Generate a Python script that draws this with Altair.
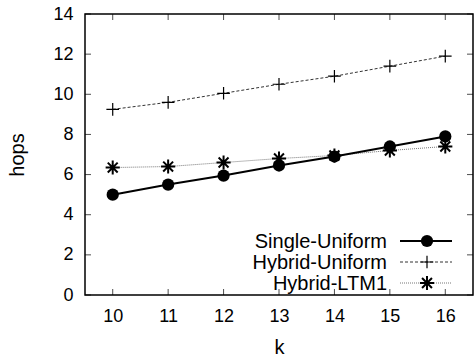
import altair as alt
import pandas as pd

k = [10, 11, 12, 13, 14, 15, 16]
single_uniform = [5.0, 5.5, 5.95, 6.45, 6.9, 7.4, 7.9]
hybrid_uniform = [9.25, 9.6, 10.05, 10.5, 10.9, 11.4, 11.9]
hybrid_ltm1 = [6.35, 6.4, 6.6, 6.8, 6.95, 7.2, 7.4]
y_ticks = [0, 2, 4, 6, 8, 10, 12, 14]
series_names = ["Single-Uniform", "Hybrid-Uniform", "Hybrid-LTM1"]

W, H = 388, 281
FONT = "Liberation Sans"

df_su = pd.DataFrame({"k": k, "hops": single_uniform})
df_hu = pd.DataFrame({"k": k, "hops": hybrid_uniform})
df_hl = pd.DataFrame({"k": k, "hops": hybrid_ltm1})
df_xt = pd.DataFrame({"k": k})
df_yt = pd.DataFrame({"hops": y_ticks})

xs = alt.Scale(domain=[9.5, 16.5], nice=False, zero=False)
ys = alt.Scale(domain=[0, 14], nice=False)

X = alt.X("k:Q", scale=xs, title="k",
          axis=alt.Axis(values=k, format="d", ticks=False, domain=False, grid=False,
                        labelFont=FONT, labelFontSize=18, labelPadding=12,
                        titleFont=FONT, titleFontSize=20, titleFontWeight="normal",
                        titlePadding=12, labelColor="black", titleColor="black"))
Y = alt.Y("hops:Q", scale=ys, title="hops",
          axis=alt.Axis(values=y_ticks, format="d", ticks=False, domain=False, grid=False,
                        labelFont=FONT, labelFontSize=18, labelPadding=12,
                        titleFont=FONT, titleFontSize=20, titleFontWeight="normal",
                        titlePadding=25, labelColor="black", titleColor="black"))

PLUS = "M-1,0H1M0,-1V1"
STAR = "M-1,0H1M0,-1V1M-0.7,-0.7L0.7,0.7M-0.7,0.7L0.7,-0.7"

base_su = alt.Chart(df_su)
base_hu = alt.Chart(df_hu)
base_hl = alt.Chart(df_hl)

line_hu = base_hu.mark_line(color="#333333", strokeWidth=1, strokeDash=[3, 2]).encode(x=X, y=Y)
pts_hu = base_hu.mark_point(shape=PLUS, size=160, color="black", strokeWidth=1.2, filled=False, opacity=1).encode(x="k:Q", y="hops:Q")
line_hl = base_hl.mark_line(color="#777777", strokeWidth=1, strokeDash=[1, 1]).encode(x="k:Q", y="hops:Q")
pts_hl = base_hl.mark_point(shape=STAR, size=200, color="black", strokeWidth=2, filled=False, opacity=1).encode(x="k:Q", y="hops:Q")
line_su = base_su.mark_line(color="black", strokeWidth=2).encode(x="k:Q", y="hops:Q")
pts_su = base_su.mark_point(shape="circle", size=150, color="black", filled=True, opacity=1).encode(x="k:Q", y="hops:Q")

# inward ticks
xt_b = alt.Chart(df_xt).mark_tick(color="black", thickness=1, size=6).encode(x="k:Q", y=alt.value(H - 3))
xt_t = alt.Chart(df_xt).mark_tick(color="black", thickness=1, size=6).encode(x="k:Q", y=alt.value(3))
yt_l = alt.Chart(df_yt).mark_tick(color="black", thickness=1, size=6).encode(y="hops:Q", x=alt.value(3))
yt_r = alt.Chart(df_yt).mark_tick(color="black", thickness=1, size=6).encode(y="hops:Q", x=alt.value(W - 3))

# legend
leg_y = [227, 248, 269]
legend_layers = []
for i, name in enumerate(series_names):
    d = pd.DataFrame({"name": [name]})
    legend_layers.append(alt.Chart(d).mark_text(align="right", baseline="middle", font=FONT,
                                                fontSize=20, color="black")
                         .encode(text="name:N", x=alt.value(302), y=alt.value(leg_y[i] + 1)))
ls = [dict(color="black", strokeWidth=2),
      dict(color="#333333", strokeWidth=1, strokeDash=[3, 2]),
      dict(color="#777777", strokeWidth=1, strokeDash=[1, 1])]
shapes = [dict(shape="circle", size=150, filled=True),
          dict(shape=PLUS, size=160, filled=False, strokeWidth=1.2),
          dict(shape=STAR, size=200, filled=False, strokeWidth=2)]
for i, name in enumerate(series_names):
    d = pd.DataFrame({"name": [name]})
    legend_layers.append(alt.Chart(d).mark_rule(**ls[i])
                         .encode(x=alt.value(315), x2=alt.value(367), y=alt.value(leg_y[i])))
    legend_layers.append(alt.Chart(d).mark_point(color="black", opacity=1, **shapes[i])
                         .encode(x=alt.value(342), y=alt.value(leg_y[i])))

chart = alt.layer(line_hu, pts_hu, line_hl, pts_hl, line_su, pts_su,
                  xt_b, xt_t, yt_l, yt_r, *legend_layers).properties(
    width=W, height=H,
    autosize=alt.AutoSizeParams(type="none"),
    padding={"left": 85, "top": 14, "right": 1, "bottom": 63},
    background="white",
).configure_view(stroke="black", strokeWidth=1.5)

chart.save("out.html", embed_options={"renderer": "svg", "actions": False})
